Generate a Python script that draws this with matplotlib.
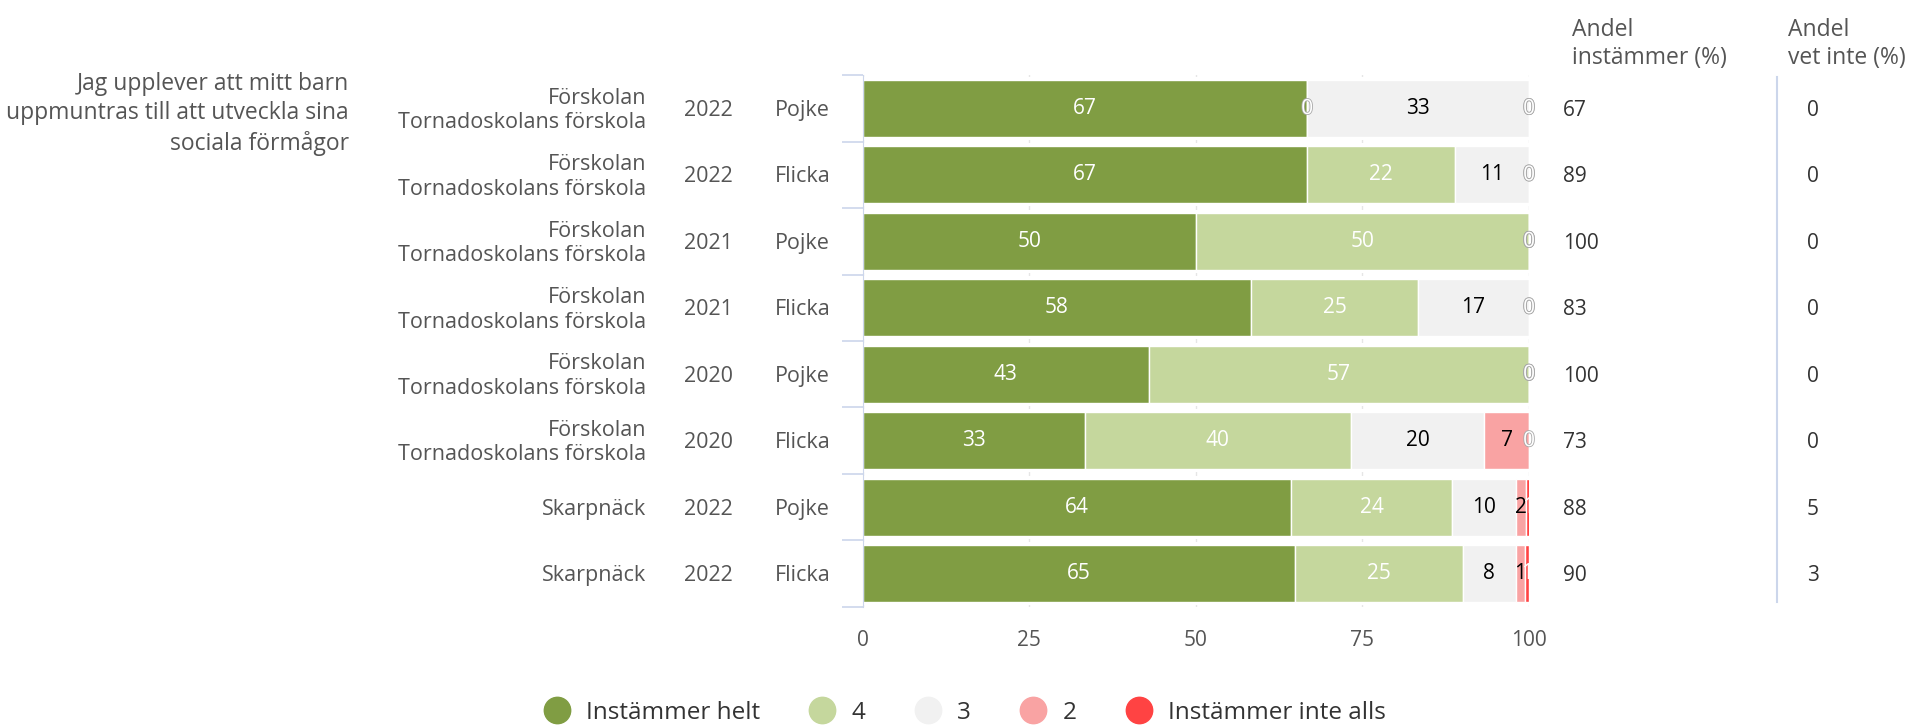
import matplotlib
matplotlib.use("Agg")
import matplotlib.pyplot as plt
import matplotlib.transforms as mtransforms
import matplotlib.patheffects as pe
from matplotlib.lines import Line2D
import numpy as np

plt.rcParams['font.family'] = ['Open Sans', 'DejaVu Sans']

question = "Jag upplever att mitt barn\nuppmuntras till att utveckla sina\nsociala förmågor"
places = ["Förskolan\nTornadoskolans förskola"] * 6 + ["Skarpnäck", "Skarpnäck"]
years = ["2022", "2022", "2021", "2021", "2020", "2020", "2022", "2022"]
genders = ["Pojke", "Flicka", "Pojke", "Flicka", "Pojke", "Flicka", "Pojke", "Flicka"]

series_names = ["Instämmer helt", "4", "3", "2", "Instämmer inte alls"]
series_colors = ["#809d43", "#c5d79d", "#f1f1f1", "#f9a3a3", "#ff4343"]
label_colors = ["white", "white", "black", "black", "white"]

s_helt = [66.7, 66.7, 50.0, 58.3, 42.9, 33.3, 64.3, 64.9]
s_4 = [0.0, 22.2, 50.0, 25.0, 57.1, 40.0, 24.1, 25.2]
s_3 = [33.3, 11.1, 0.0, 16.7, 0.0, 20.0, 9.6, 7.9]
s_2 = [0.0, 0.0, 0.0, 0.0, 0.0, 6.7, 1.5, 1.4]
s_inte = [0.0, 0.0, 0.0, 0.0, 0.0, 0.0, 0.6, 0.6]

andel_instammer = [67, 89, 100, 83, 100, 73, 88, 90]
andel_vet_inte = [0, 0, 0, 0, 0, 0, 5, 3]

series = [s_helt, s_4, s_3, s_2, s_inte]

fig = plt.figure(figsize=(19.19, 7.26), dpi=100)
ax = fig.add_axes([0.4496, 0.1643, 0.3472, 0.732])

y = np.arange(len(years))
totals = np.sum(np.array(series), axis=0)
# white border band around each stacked bar (covers the gridlines like the bar borders)
ax.barh(y, totals, left=0, height=0.95, color='white', linewidth=0, zorder=1.5)

left = np.zeros(len(years))
for j, (vals, col) in enumerate(zip(series, series_colors)):
    vals = np.array(vals)
    ax.barh(y, vals, left=left, height=0.86, color=col, edgecolor='white',
            linewidth=1.0, zorder=2)
    for i in range(len(y)):
        v = vals[i]
        xc = left[i] + v / 2
        txt = str(int(round(v)))
        if int(round(v)) == 0:
            ax.text(xc, y[i], "0", ha='center', va='center', fontsize=15,
                    color='white', zorder=4, clip_on=False,
                    path_effects=[pe.Stroke(linewidth=1.2, foreground='#a8a8a8'), pe.Normal()])
        else:
            ax.text(xc, y[i], txt, ha='center', va='center', fontsize=15,
                    color=label_colors[j], zorder=4, clip_on=False)
    left = left + vals

ax.set_xlim(0, 100)
ax.set_ylim(len(y) - 0.5, -0.5)
ax.set_xticks([0, 25, 50, 75, 100])
ax.grid(axis='x', color='#e6e6e6', linewidth=1, zorder=0)
ax.set_axisbelow(True)
for s in ['top', 'right', 'bottom']:
    ax.spines[s].set_visible(False)
ax.spines['left'].set_color('#ccd6eb')
ax.spines['left'].set_zorder(5)
ax.tick_params(axis='x', length=0, pad=17, labelsize=15, labelcolor='#555555')
ax.set_yticks(y)
ax.set_yticklabels([])
ax.tick_params(axis='y', which='major', length=0)
ax.set_yticks(np.arange(-0.5, len(y), 1.0), minor=True)
ax.tick_params(axis='y', which='minor', length=15, color='#ccd6eb', width=1.2)

trans = mtransforms.blended_transform_factory(ax.transAxes, ax.transData)
lab_col = '#555555'
for i in range(len(y)):
    ax.text(-0.325, y[i] + 0.03, places[i], transform=trans, ha='right', va='center',
            multialignment='right', fontsize=15.5, color=lab_col, linespacing=1.22)
    ax.text(-0.232, y[i] + 0.03, years[i], transform=trans, ha='center', va='center',
            fontsize=15.5, color=lab_col)
    ax.text(-0.049, y[i] + 0.03, genders[i], transform=trans, ha='right', va='center',
            fontsize=15.5, color=lab_col)
    ax.text(1.051, y[i] + 0.03, str(andel_instammer[i]), transform=trans, ha='left',
            va='center', fontsize=15, color='#333333')
    ax.text(1.417, y[i] + 0.03, str(andel_vet_inte[i]), transform=trans, ha='left',
            va='center', fontsize=15, color='#333333')

ax.text(-0.771, 0.08, question, transform=trans, ha='right', va='center',
        multialignment='right', fontsize=16.5, color=lab_col, linespacing=1.3)

ax.add_line(Line2D([1.372, 1.372], [-0.47, 7.43], transform=trans, color='#ccd6eb',
                   linewidth=1.5, clip_on=False))

fig.text(1572 / 1919, 1 - 44 / 726, "Andel\ninstämmer (%)", ha='left', va='center',
         fontsize=16.5, color='#555555', linespacing=1.25)
fig.text(1788 / 1919, 1 - 44 / 726, "Andel\nvet inte (%)", ha='left', va='center',
         fontsize=16.5, color='#555555', linespacing=1.25)

handles = [Line2D([], [], marker='o', linestyle='none', markersize=19,
                  markerfacecolor=c, markeredgecolor=c) for c in series_colors]
fig.legend(handles, series_names, loc='center', bbox_to_anchor=(0.503, 0.018),
           ncol=5, frameon=False, fontsize=17.5, handlelength=1.0, handletextpad=0.7,
           columnspacing=2.07, labelcolor='#333333')

fig.savefig("out.png", dpi=100)
